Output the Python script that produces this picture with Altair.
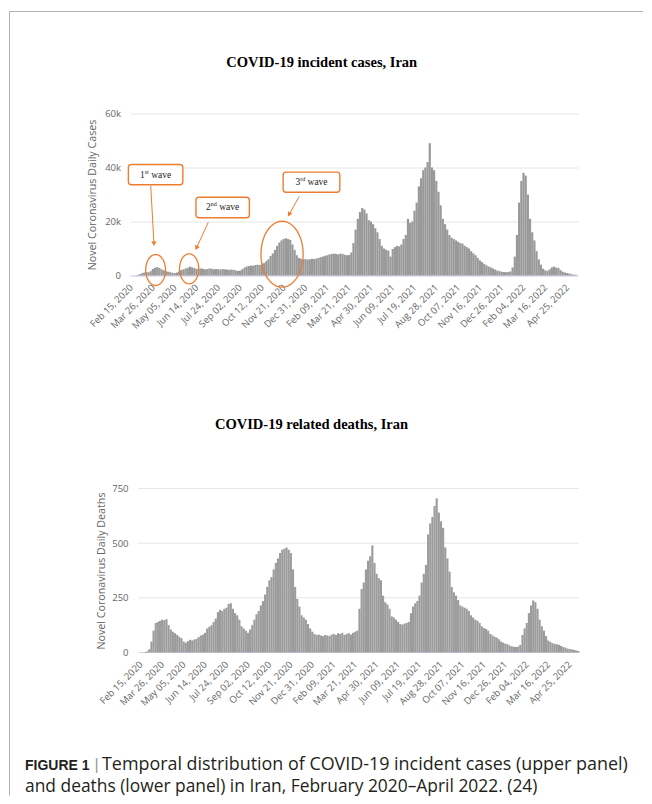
import math
import altair as alt
import pandas as pd

DAY_MS = 86400000


def ms(s):
    return int(pd.Timestamp(s, tz="UTC").value // 10**6)


# ---------------- data ----------------
# bin centres: days after Feb 15, 2020, every 4 days
bin_days = list(range(4, 820, 4))

cases = [
    20, 60, 200, 500, 800, 1100, 1300, 1200, 1600, 2400,
    2900, 3100, 2800, 2300, 1900, 1600, 1400, 1200, 1000, 900,
    1100, 1500, 2000, 2300, 2600, 2900, 3300, 3000, 2700, 2500,
    2400, 2600, 2500, 2300, 2400, 2600, 2500, 2300, 2400, 2300,
    2200, 2400, 2300, 2200, 2100, 2200, 2100, 1900, 1700, 1800,
    2300, 2900, 3300, 3500, 3700, 3600, 3900, 4000, 3900, 4200,
    4600, 5300, 6000, 7200, 8200, 9500, 11000, 12200, 13000, 13500,
    13800, 13500, 13200, 11500, 9500, 7500, 6500, 6200, 6000, 6100,
    5900, 6000, 6200, 6100, 6300, 6500, 6800, 7000, 7300, 7500,
    7800, 8000, 8100, 8000, 7800, 8100, 8000, 7700, 7500, 7600,
    8500, 12000, 17000, 21000, 23500, 25000, 24500, 23000, 20500, 20000,
    19000, 17500, 16000, 13500, 11000, 10000, 9500, 9200, 7000, 9800,
    10500, 11000, 10800, 11500, 13500, 15000, 21000, 19500, 20000, 24000,
    27000, 33000, 36000, 39000, 40000, 42000, 49000, 40000, 39000, 35000,
    31000, 26000, 21000, 19000, 17000, 15000, 14000, 13500, 13000, 12500,
    12000, 11800, 11000, 10500, 10000, 9000, 8200, 7500, 6500, 5600,
    5000, 4300, 3800, 3300, 3000, 2600, 2200, 1800, 1600, 1400,
    1300, 1200, 1300, 1500, 3000, 7000, 15000, 27000, 35000, 38000,
    37000, 30000, 21000, 16000, 13000, 9000, 6000, 4000, 2500, 1900,
    1700, 2300, 3000, 3300, 2900, 2800, 2000, 1400, 1100, 900,
    700, 500, 350, 250,
]

deaths = [
    0, 2, 5, 15, 50, 100, 135, 140, 145, 150,
    148, 152, 125, 105, 95, 88, 80, 72, 65, 50,
    45, 52, 58, 55, 60, 62, 70, 78, 82, 90,
    110, 118, 125, 140, 155, 185, 195, 190, 200, 205,
    222, 225, 200, 180, 170, 150, 120, 110, 100, 90,
    105, 125, 150, 175, 190, 215, 235, 265, 300, 330,
    345, 380, 410, 430, 455, 470, 475, 480, 470, 455,
    380, 300, 245, 210, 170, 160, 150, 130, 110, 95,
    85, 80, 82, 78, 75, 80, 78, 75, 82, 85,
    80, 88, 85, 90, 80, 85, 88, 82, 90, 95,
    100, 200, 290, 320, 380, 420, 440, 490, 410, 360,
    340, 330, 260, 230, 220, 200, 165, 160, 150, 140,
    130, 128, 132, 135, 140, 180, 210, 225, 235, 260,
    320, 360, 400, 540, 590, 620, 670, 705, 640, 600,
    570, 480, 430, 370, 300, 275, 260, 240, 215, 210,
    205, 200, 190, 170, 160, 150, 145, 135, 120, 112,
    108, 100, 85, 78, 72, 68, 60, 50, 45, 40,
    38, 32, 28, 26, 25, 27, 35, 80, 110, 135,
    180, 215, 238, 230, 200, 150, 120, 100, 75, 55,
    48, 42, 40, 38, 35, 30, 25, 22, 18, 16,
    14, 12, 9, 7,
]

tick_dates = [
    "2020-02-15", "2020-03-26", "2020-05-05", "2020-06-14", "2020-07-24",
    "2020-09-02", "2020-10-12", "2020-11-21", "2020-12-31", "2021-02-09",
    "2021-03-21", "2021-04-30", "2021-06-09", "2021-07-19", "2021-08-28",
    "2021-10-07", "2021-11-16", "2021-12-26", "2022-02-04", "2022-03-16",
    "2022-04-25",
]
case_ticks = [0, 20000, 40000, 60000]
death_ticks = [0, 250, 500, 750]

top_title = "COVID-19 incident cases, Iran"
bottom_title = "COVID-19 related deaths, Iran"
y_title_cases = "Novel Coronavirus Daily Cases"
y_title_deaths = "Novel Coronavirus Daily Deaths"
caption_bold = "FIGURE 1"
caption_line1 = "Temporal distribution of COVID-19 incident cases (upper panel)"
caption_line2 = "and deaths (lower panel) in Iran, February 2020\u2013April 2022. (24)"

# annotation boxes on the cases panel (date / value space)
box_x1 = ["2020-02-10", "2020-06-13", "2020-11-20"]
box_x2 = ["2020-05-20", "2020-09-19", "2021-03-04"]
box_y1 = [33600, 21400, 30850]
box_y2 = [41100, 29000, 38300]
box_cx = ["2020-03-31", "2020-08-01", "2021-01-11"]
box_cy = [37300, 25200, 34560]
wave_num = ["1", "2", "3"]
wave_sup = ["st", "nd", "rd"]

ell_x = ["2020-03-31", "2020-05-31T12:00", "2020-11-18"]
ell_y = [2040, 2480, 7890]
ell_ry = [15.5, 15.0, 33.0]

arr_x1 = ["2020-03-22", "2020-07-05T16:00", "2020-12-19T14:00"]
arr_y1 = [33300, 19740, 29260]
arr_x2 = ["2020-03-28", "2020-06-14", "2020-11-30T20:00"]
arr_y2 = [11800, 10200, 22600]
arr_angle = [357, 24, 30]

# ---------------- layout constants ----------------
ORANGE = "#ED7D31"
GREY_TXT = "#666666"
TOP_W, TOP_H = 448, 162
BOT_W, BOT_H = 449, 164
TOP_DOM = [ms("2020-02-13"), ms("2022-05-15")]
BOT_DOM = [ms("2020-01-26"), ms("2022-05-12T10:00")]
top_ppd = TOP_W / ((TOP_DOM[1] - TOP_DOM[0]) / DAY_MS)   # px per day
top_vpp = 60000 / TOP_H                                    # value per px

base = ms("2020-02-15")
df = pd.DataFrame({
    "start": [base + (d - 2) * DAY_MS for d in bin_days],
    "end": [base + (d + 2) * DAY_MS for d in bin_days],
    "cases": cases,
    "deaths": deaths,
})


def x_axis(domain_line):
    return alt.Axis(
        values=[ms(t) for t in tick_dates], format="%b %d, %Y",
        labelAngle=-45, labelAlign="right", labelBaseline="middle",
        labelPadding=10, labelFont="Open Sans", labelFontSize=9.5,
        labelColor=GREY_TXT, labelFlush=False, labelOverlap=False,
        ticks=False, grid=False, domain=domain_line, domainColor="#ccd6eb",
        title=None,
    )


def label(text, x, y, **kw):
    return alt.Chart(pd.DataFrame({"t": [text]})).mark_text(**kw).encode(
        x=alt.value(x), y=alt.value(y), text="t:N")


# ---------------- top panel ----------------
xt = alt.Scale(type="utc", domain=TOP_DOM)
yt = alt.Scale(domain=[0, 60000], nice=False)
X_AX_T = x_axis(True)
Y_AX_T = alt.Axis(
    values=case_ticks,
    labelExpr="datum.value == 0 ? '0' : format(datum.value / 1000, 'd') + 'k'",
    title=y_title_cases,
    titleFont="Open Sans", titleFontSize=10.7, titleFontWeight="normal",
    titleColor=GREY_TXT, titleAngle=-90, titleX=-37.7, titleY=TOP_H / 2,
    titleAlign="center", titleBaseline="middle",
    labelFont="Open Sans", labelFontSize=9.5, labelColor=GREY_TXT,
    labelPadding=9.5, ticks=False, domain=False, grid=True,
    gridColor="#e6e6e6")


def XT(f):
    return alt.X(f, scale=xt, axis=X_AX_T)


def YT(f):
    return alt.Y(f, scale=yt, axis=Y_AX_T)


bars_top = alt.Chart(df).mark_rect(color="#999999").encode(
    x=XT("start:T"), x2="end:T", y=YT("cases:Q"), y2=alt.datum(0))

ell_path = "M" + " L".join(
    f"{0.64 * math.cos(2 * math.pi * k / 48):.4f},{math.sin(2 * math.pi * k / 48):.4f}"
    for k in range(48)) + " Z"
ell_df = pd.DataFrame({"x": [ms(s) for s in ell_x], "y": ell_y,
                       "s": [(2 * r) ** 2 for r in ell_ry]})
ellipses = alt.Chart(ell_df).mark_point(
    shape=ell_path, filled=False, stroke=ORANGE, strokeWidth=1.3, opacity=1
).encode(x=XT("x:T"), y=YT("y:Q"),
         size=alt.Size("s:Q", scale=None, legend=None))

arr_df = pd.DataFrame({"x1": [ms(s) for s in arr_x1], "y1": arr_y1,
                       "x2": [ms(s) for s in arr_x2], "y2": arr_y2,
                       "a": arr_angle})
arrows = alt.Chart(arr_df).mark_rule(color=ORANGE, strokeWidth=1).encode(
    x=XT("x1:T"), y=YT("y1:Q"), x2="x2:T", y2="y2:Q")
heads = alt.Chart(arr_df).mark_point(
    shape="triangle-down", filled=True, color=ORANGE, size=28, opacity=1
).encode(x=XT("x2:T"), y=YT("y2:Q"), angle=alt.Angle("a:Q", scale=None))

box_df = pd.DataFrame({"x1": [ms(s) for s in box_x1], "x2": [ms(s) for s in box_x2],
                       "y1": box_y1, "y2": box_y2})
boxes = alt.Chart(box_df).mark_rect(
    fill="white", stroke=ORANGE, strokeWidth=1.4, cornerRadius=3
).encode(x=XT("x1:T"), x2="x2:T", y=YT("y1:Q"), y2="y2:Q")

# text pieces inside the boxes: number, superscript, "wave"
SER = "Liberation Serif"
w_num, w_space = 4.75, 2.375
w_sup = {"st": 4.0, "nd": 6.0, "rd": 5.0}
w_wave = 20.05
main_rows, sup_rows = [], []
for cx, cy, n, s in zip(box_cx, box_cy, wave_num, wave_sup):
    total = w_num + w_sup[s] + w_space + w_wave
    left = -total / 2
    c = ms(cx)

    def px2x(dx, c=c):
        return c + dx / top_ppd * DAY_MS
    main_rows.append({"x": px2x(left), "y": cy, "t": n})
    main_rows.append({"x": px2x(left + w_num + w_sup[s] + w_space), "y": cy, "t": "wave"})
    sup_rows.append({"x": px2x(left + w_num), "y": cy + 3 * top_vpp, "t": s})

wave_main = alt.Chart(pd.DataFrame(main_rows)).mark_text(
    font=SER, fontSize=9.5, color="#222222", align="left", baseline="middle"
).encode(x=XT("x:T"), y=YT("y:Q"), text="t:N")
wave_sup_l = alt.Chart(pd.DataFrame(sup_rows)).mark_text(
    font=SER, fontSize=6, color="#222222", align="left", baseline="middle"
).encode(x=XT("x:T"), y=YT("y:Q"), text="t:N")

frame_v = alt.Chart(pd.DataFrame({"k": [0]})).mark_rule(
    color="#b0b0b0", strokeWidth=1).encode(
    x=alt.value(-120.5), y=alt.value(-102), y2=alt.value(682))
frame_h = alt.Chart(pd.DataFrame({"k": [0]})).mark_rule(
    color="#b0b0b0", strokeWidth=1).encode(
    x=alt.value(-120.5), x2=alt.value(513), y=alt.value(-102))

title_top = label(top_title, 191.7, -50.3, font=SER, fontSize=14.5,
                  fontWeight="bold", color="#000000", align="center",
                  baseline="middle")

top = alt.layer(
    bars_top, ellipses, arrows, heads, boxes, wave_main, wave_sup_l,
    frame_v, frame_h, title_top,
).properties(width=TOP_W, height=TOP_H)

# ---------------- bottom panel ----------------
xb = alt.Scale(type="utc", domain=BOT_DOM)
yb = alt.Scale(domain=[0, 750], nice=False)
X_AX_B = x_axis(False)
Y_AX_B = alt.Axis(
    values=death_ticks, title=y_title_deaths,
    titleFont="Open Sans", titleFontSize=10.7, titleFontWeight="normal",
    titleColor=GREY_TXT, titleAngle=-90, titleX=-28.3, titleY=BOT_H / 2,
    titleAlign="center", titleBaseline="middle",
    labelFont="Open Sans", labelFontSize=9.5, labelColor=GREY_TXT,
    labelPadding=2, ticks=False, domain=False, grid=False)


def XB(f):
    return alt.X(f, scale=xb, axis=X_AX_B)


def YB(f):
    return alt.Y(f, scale=yb, axis=Y_AX_B)


grid_df = pd.DataFrame({"x1": [ms("2020-02-10T12:00")] * 3,
                        "x2": [BOT_DOM[1]] * 3, "y": death_ticks[1:]})
grid_b = alt.Chart(grid_df).mark_rule(color="#e6e6e6", strokeWidth=1).encode(
    x=XB("x1:T"), x2="x2:T", y=YB("y:Q"))
base_df = pd.DataFrame({"x1": [ms("2020-02-10T12:00")], "x2": [BOT_DOM[1]], "y": [0]})
base_b = alt.Chart(base_df).mark_rule(color="#ccd6eb", strokeWidth=1).encode(
    x=XB("x1:T"), x2="x2:T", y=YB("y:Q"))

bars_bot = alt.Chart(df).mark_rect(color="#9c9c9c").encode(
    x=XB("start:T"), x2="end:T", y=YB("deaths:Q"), y2=alt.datum(0))

title_bot = label(bottom_title, 181.5, -64, font=SER, fontSize=14.5,
                  fontWeight="bold", color="#000000", align="center",
                  baseline="middle")
cap_b = label(caption_bold, -105, 281, font="Liberation Sans", fontSize=14,
              fontWeight="bold", color="#231f20", align="left",
              baseline="alphabetic")
cap_bar = label("|", -35.5, 281, font="Liberation Sans", fontSize=16,
                color="#9a9a9a", align="left", baseline="alphabetic")
cap_1 = label(caption_line1, -28, 281, font="Open Sans", fontSize=17.9,
              color="#231f20", align="left", baseline="alphabetic")
cap_2 = label(caption_line2, -105, 303, font="Open Sans", fontSize=17.4,
              color="#231f20", align="left", baseline="alphabetic")

bottom = alt.layer(
    grid_b, base_b, bars_bot, title_bot, cap_b, cap_bar, cap_1, cap_2,
).properties(width=BOT_W, height=BOT_H)

chart = alt.vconcat(top, bottom, spacing=213, bounds="flush").properties(
    padding={"left": 1, "top": 2.5, "right": 0, "bottom": 2},
    background="white",
).configure_view(stroke=None)

chart.save("out.html", embed_options={"renderer": "svg", "actions": False})
